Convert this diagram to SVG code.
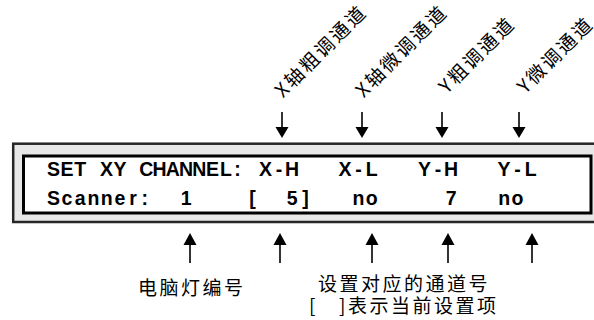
<svg xmlns="http://www.w3.org/2000/svg" width="594" height="320" viewBox="0 0 594 320">
<style>
.lcd{font-family:"Liberation Sans",Arial,sans-serif;font-size:19.5px;font-weight:bold;fill:#000;text-anchor:middle}
.cn{font-family:"Noto Sans CJK SC","Noto Sans CJK JP",sans-serif;font-size:19px;fill:#000;letter-spacing:2.5px}
.shaft{stroke:#000;stroke-width:1.6;fill:none}
.head{fill:#000;stroke:none}
</style>
<rect width="594" height="320" fill="#fff"/>
<g id="display">
<rect x="13.2" y="143.7" width="640" height="78.3" fill="#e8e8e8" stroke="#262626" stroke-width="2.5"/>
<rect x="23.5" y="156" width="567.5" height="57" fill="#fff" stroke="#000" stroke-width="3"/>
<g id="row1">
<text class="lcd" y="175.5" x="53.6 66.9 80.1">SET</text>
<text class="lcd" y="175.5" x="106.6 119.9">XY</text>
<text class="lcd" y="175.5" x="146.4 159.6 172.9 186.1 199.4 212.6 225.9 237.5">CHANNEL:</text>
<text class="lcd" y="175.5" x="265.6 278.9 292.1">X-H</text>
<text class="lcd" y="175.5" x="345.1 358.4 371.6">X-L</text>
<text class="lcd" y="175.5" x="424.6 437.9 451.1">Y-H</text>
<text class="lcd" y="175.5" x="504.1 517.4 530.6">Y-L</text>
</g>
<g id="row2">
<text class="lcd" y="205" x="53.6 66.9 80.1 93.4 106.6 119.9 133.1 144.8">Scanner:</text>
<text class="lcd" y="205" x="186.1">1</text>
<text class="lcd" y="205" x="252.4">[</text>
<text class="lcd" y="205" x="292.1 305.4">5]</text>
<text class="lcd" y="205" x="358.4 371.6">no</text>
<text class="lcd" y="205" x="451.1">7</text>
<text class="lcd" y="205" x="504.1 517.4">no</text>
</g>
</g>
<g id="label-xh"><text class="cn" transform="translate(283,98.5) rotate(-45)">X轴粗调通道</text></g>
<g id="label-xl"><text class="cn" transform="translate(363.7,98.5) rotate(-45)">X轴微调通道</text></g>
<g id="label-yh"><text class="cn" transform="translate(447,94.5) rotate(-45)">Y粗调通道</text></g>
<g id="label-yl"><text class="cn" transform="translate(525.4,94.5) rotate(-45)">Y微调通道</text></g>
<g id="label-scanner"><text class="cn" x="138" y="295">电脑灯编号</text></g>
<g id="label-channel">
<text class="cn" x="318" y="290.5">设置对应的通道号</text>
<text class="cn" x="309" y="313">[ <tspan x="339">]表示当前设置项</tspan></text>
</g>
<g id="connectors">
<line class="shaft" x1="282" y1="112" x2="282" y2="128"/><polygon class="head" points="275.5,127 288.5,127 282,138"/>
<line class="shaft" x1="362" y1="112" x2="362" y2="128"/><polygon class="head" points="355.5,127 368.5,127 362,138"/>
<line class="shaft" x1="442" y1="112" x2="442" y2="128"/><polygon class="head" points="435.5,127 448.5,127 442,138"/>
<line class="shaft" x1="519" y1="112" x2="519" y2="128"/><polygon class="head" points="512.5,127 525.5,127 519,138"/>
<line class="shaft" x1="190" y1="244" x2="190" y2="263"/><polygon class="head" points="190,233 183.5,245 196.5,245"/>
<line class="shaft" x1="280" y1="244" x2="280" y2="263"/><polygon class="head" points="280,233 273.5,245 286.5,245"/>
<line class="shaft" x1="372" y1="244" x2="372" y2="263"/><polygon class="head" points="372,233 365.5,245 378.5,245"/>
<line class="shaft" x1="448" y1="244" x2="448" y2="263"/><polygon class="head" points="448,233 441.5,245 454.5,245"/>
<line class="shaft" x1="532" y1="244" x2="532" y2="263"/><polygon class="head" points="532,233 525.5,245 538.5,245"/>
</g>
</svg>
